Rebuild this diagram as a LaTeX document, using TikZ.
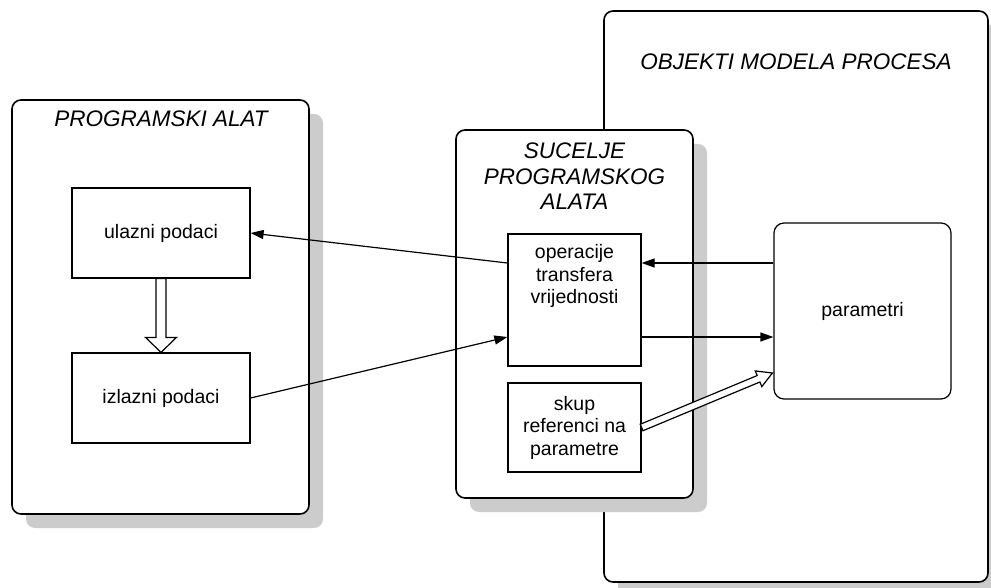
\documentclass[tikz,border=0pt]{standalone}
\usepackage{fontspec}
\setmainfont{Liberation Sans}
\usetikzlibrary{arrows.meta,calc,positioning,shadows}

\tikzset{
  panel/.style={draw, line width=1.6pt, fill=white, rounded corners=9pt,
    drop shadow={shadow xshift=14pt, shadow yshift=-14pt, opacity=1, fill=black!20}},
  box/.style={draw, line width=1.2pt, fill=white, align=center, inner sep=0pt,
    font=\fontsize{19.5}{22.5}\selectfont},
  boxtext/.style={align=center, font=\fontsize{19.5}{22.5}\selectfont},
  title/.style={align=center, font=\itshape\fontsize{22.5}{25.5}\selectfont},
  conn/.style={line width=1.2pt, -{Triangle[length=13pt,width=9pt]}},
  hollow/.style={line width=1.2pt, fill=white, line join=miter},
}

% start, end, half shaft, half head, head length
\newcommand{\hollowarrow}[5]{%
  \draw[hollow] let \p1=(#1), \p2=(#2), \n1={atan2(\y2-\y1,\x2-\x1)} in
    ($(#1)+(\n1+90:#3pt)$) -- ($(#2)+(\n1+180:#5pt)+(\n1+90:#3pt)$)
    -- ($(#2)+(\n1+180:#5pt)+(\n1+90:#4pt)$) -- (#2)
    -- ($(#2)+(\n1+180:#5pt)+(\n1-90:#4pt)$)
    -- ($(#2)+(\n1+180:#5pt)+(\n1-90:#3pt)$) -- ($(#1)+(\n1-90:#3pt)$) -- cycle;}

\begin{document}
\begin{tikzpicture}[x=1pt,y=-1pt]
  \useasboundingbox (0,0) rectangle (991,588);
  %Panels
  \node[panel, minimum width=384, minimum height=571] (objekti) at (796,296.5) {};
  \node[title] at (796,62) {OBJEKTI MODELA PROCESA};
  \node[panel, minimum width=237, minimum height=368] (sucelje) at (574.5,314) {};
  \node[title] at (574.5,176.5) {SUCELJE\\PROGRAMSKOG\\ALATA};
  \node[panel, minimum width=297, minimum height=414] (alat) at (160.5,307) {};
  \node[title] at (161,119) {PROGRAMSKI ALAT};
  %Boxes
  \node[box, minimum width=178, minimum height=90] (ulaz) at (161,233) {ulazni podaci};
  \node[box, minimum width=178, minimum height=90] (izlaz) at (161,398) {izlazni podaci};
  \node[box, minimum width=133, minimum height=132] (oper) at (574.5,300) {};
  \node[boxtext] at (574.5,276) {operacije\\transfera\\vrijednosti};
  \node[box, minimum width=133, minimum height=89] (skup) at (574.5,427.5) {skup\\referenci na\\parametre};
  \node[box, rounded corners=10pt, minimum width=177, minimum height=176] (param) at (862.5,311) {parametri};
  %Ends of the connectors
  \coordinate (op-w1) at ($(oper.west)+(0,-37)$);
  \coordinate (op-w2) at ($(oper.west)+(0,37)$);
  \coordinate (op-e1) at ($(oper.east)+(0,-37)$);
  \coordinate (op-e2) at ($(oper.east)+(0,37)$);
  \coordinate (param-in) at ($(param.west)+(-1,62)$);
  %Arrows
  \draw[conn] (op-w1) -- (ulaz.east);
  \draw[conn] (izlaz.east) -- (op-w2);
  \draw[conn] (param.west |- op-e1) -- (op-e1);
  \draw[conn] (op-e2) -- (param.west |- op-e2);
  \hollowarrow{ulaz.south}{izlaz.north}{5}{15.5}{15}
  \hollowarrow{skup.east}{param-in}{3.5}{8.5}{15}
\end{tikzpicture}
\end{document}
